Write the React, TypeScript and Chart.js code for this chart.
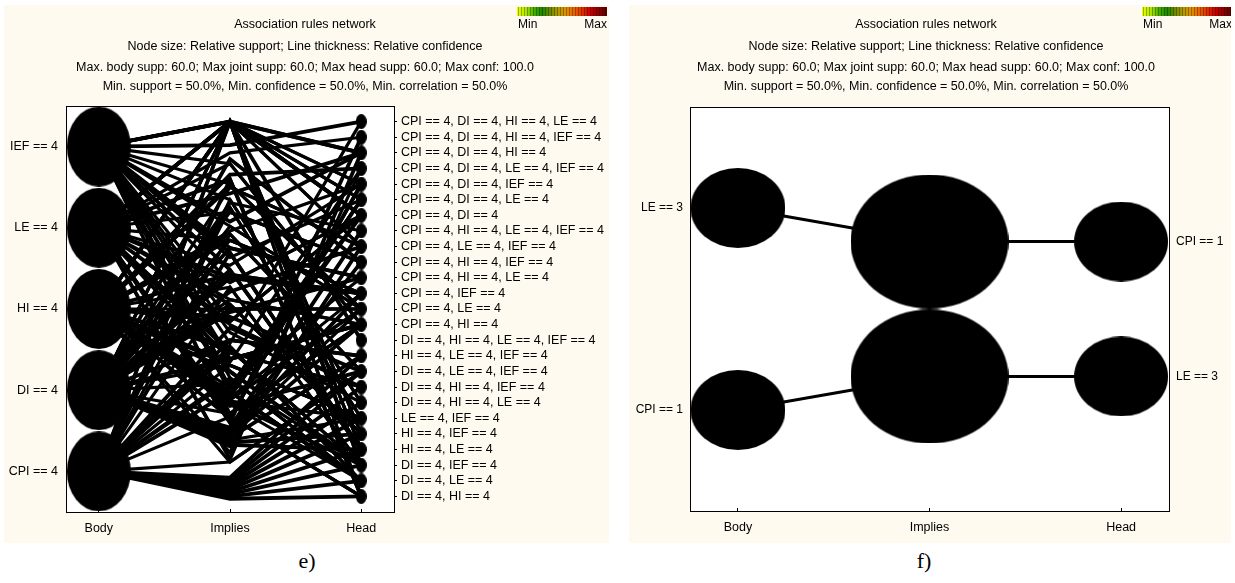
import React, { useEffect, useRef } from 'react';
import { Chart, registerables } from 'chart.js';

Chart.register(...registerables);

const FONT = "'Liberation Sans', Arial, Helvetica, sans-serif";
const BEIGE = '#fefaf0';

// ---------- shared texts ----------
const titleLines = [
  'Association rules network',
  'Node size: Relative support; Line thickness: Relative confidence',
  'Max. body supp: 60.0; Max joint supp: 60.0; Max head supp: 60.0; Max conf: 100.0',
  'Min. support = 50.0%, Min. confidence = 50.0%, Min. correlation = 50.0%',
];
const axisCategories = ['Body', 'Implies', 'Head'];
const axisCategoryX = [0, 1, 2];
const legendLabels = ['Min', 'Max'];

// ---------- panel e ----------
const eBodyLabels = ['IEF == 4', 'LE == 4', 'HI == 4', 'DI == 4', 'CPI == 4'];
const eBodyY = [23.4, 18.2, 13.0, 7.8, 2.6];
const eBodySupport = [60, 60, 60, 60, 60];
const eHeadLabels = [
  'CPI == 4, DI == 4, HI == 4, LE == 4',
  'CPI == 4, DI == 4, HI == 4, IEF == 4',
  'CPI == 4, DI == 4, HI == 4',
  'CPI == 4, DI == 4, LE == 4, IEF == 4',
  'CPI == 4, DI == 4, IEF == 4',
  'CPI == 4, DI == 4, LE == 4',
  'CPI == 4, DI == 4',
  'CPI == 4, HI == 4, LE == 4, IEF == 4',
  'CPI == 4, LE == 4, IEF == 4',
  'CPI == 4, HI == 4, IEF == 4',
  'CPI == 4, HI == 4, LE == 4',
  'CPI == 4, IEF == 4',
  'CPI == 4, LE == 4',
  'CPI == 4, HI == 4',
  'DI == 4, HI == 4, LE == 4, IEF == 4',
  'HI == 4, LE == 4, IEF == 4',
  'DI == 4, LE == 4, IEF == 4',
  'DI == 4, HI == 4, IEF == 4',
  'DI == 4, HI == 4, LE == 4',
  'LE == 4, IEF == 4',
  'HI == 4, IEF == 4',
  'HI == 4, LE == 4',
  'DI == 4, IEF == 4',
  'DI == 4, LE == 4',
  'DI == 4, HI == 4',
];
const eHeadY = [25, 24, 23, 22, 21, 20, 19, 18, 17, 16, 15, 14, 13, 12, 11, 10, 9, 8, 7, 6, 5, 4, 3, 2, 1];
const eHeadSupport = [50, 50, 50, 50, 50, 50, 50, 50, 50, 50, 50, 50, 50, 50, 50, 50, 50, 50, 50, 50, 50, 50, 50, 50, 50];

// rules: body item(s) (0 IEF, 1 LE, 2 HI, 3 DI, 4 CPI) -> head index, through an "implies" node
const eRuleBodies = [
  [0, 1], [1, 2], [0, 2], [0, 1, 2], [2, 3], [0, 3, 4], [1, 2], [0, 1], [1, 3], [4],
  [0], [1], [0, 1], [2], [0, 2], [1], [3], [1, 3], [0], [2],
  [1, 2, 3], [0, 3], [0], [1], [2, 3], [0, 1], [3], [1, 3], [0, 2, 3], [2],
  [1], [0], [3, 4], [2, 4], [1, 4], [0, 1, 3], [2, 3, 4], [1, 2], [0, 4], [3],
  [0],
  [2], [2], [2], [2], [2], [2], [2], [2],
  [3], [3], [3], [3], [3], [3], [3], [3], [3], [3],
  [4], [4], [4], [4], [4], [4], [4], [4], [4], [4],
  [2], [1, 2], [0, 2], [0], [1], [0, 1, 2], [2], [1],
  [0, 4], [1, 4], [2, 4], [3, 4], [0, 3], [1, 3], [4], [4], [2, 4], [0, 4],
  [3], [2, 3], [0, 3], [1, 3], [0, 1, 3], [2, 4], [3], [1, 2, 4], [0, 2, 4], [0, 1, 4],
];
const eRuleHead = [
  2, 4, 5, 6, 8, 21, 22, 24, 20, 14,
  0, 1, 13, 3, 12, 2, 7, 9, 2, 4,
  11, 10, 5, 4, 11, 6, 8, 13, 12, 16,
  17, 18, 15, 23, 17, 13, 19, 22, 23, 10,
  6,
  5, 6, 11, 12, 19, 22, 23, 16,
  7, 9, 11, 12, 13, 15, 19, 20, 21, 8,
  15, 16, 17, 18, 19, 20, 21, 22, 23, 24,
  3, 4, 5, 0, 1, 6, 3, 2,
  18, 24, 16, 19, 21, 20, 17, 22, 22, 21,
  9, 8, 12, 11, 13, 16, 10, 22, 23, 24,
];
const eRuleImplies = [
  25, 25, 25, 25, 25, 25, 25, 25, 25, 25,
  23.5, 23.0, 22.3, 21.6, 21.0, 20.4, 19.8, 19.2, 18.6, 18.0,
  17.4, 16.9, 16.3, 15.8, 15.2, 14.7, 14.1, 13.6, 13.0, 12.5,
  12.0, 11.5, 11.0, 10.6, 10.2, 9.8, 9.4, 9.0, 8.6, 8.2,
  7.9,
  7.5, 7.4, 7.3, 7.2, 7.1, 7.0, 6.9, 6.8,
  5.4, 5.3, 5.15, 5.0, 4.9, 4.75, 4.6, 4.45, 4.3, 4.2,
  2.2, 2.05, 1.9, 1.75, 1.6, 1.45, 1.3, 1.15, 1.0, 0.85,
  9.6, 6.0, 8.0, 10.8, 5.7, 12.2, 3.8, 3.4,
  20.0, 21.3, 17.8, 19.5, 15.5, 13.3, 11.8, 8.4, 14.4, 16.6,
  22.6, 20.8, 18.3, 15.0, 6.3, 3.2, 12.8, 10.4, 7.7, 6.1,
];
const eRuleConf = [
  100, 83.3, 83.3, 100, 83.3, 83.3, 100, 83.3, 83.3, 100,
  100, 83.3, 83.3, 100, 83.3, 100, 83.3, 83.3, 100, 83.3,
  83.3, 100, 83.3, 83.3, 100, 83.3, 100, 83.3, 83.3, 100,
  83.3, 83.3, 100, 83.3, 83.3, 100, 83.3, 100, 83.3, 83.3,
  100,
  100, 100, 83.3, 100, 83.3, 100, 83.3, 100,
  100, 100, 100, 83.3, 100, 100, 83.3, 100, 100, 100,
  100, 100, 100, 100, 100, 100, 100, 100, 100, 100,
  83.3, 100, 83.3, 83.3, 100, 83.3, 83.3, 100,
  83.3, 100, 83.3, 83.3, 100, 83.3, 100, 83.3, 83.3, 100,
  100, 83.3, 83.3, 100, 83.3, 83.3, 100, 83.3, 100, 83.3,
];

// ---------- panel f ----------
const fBodyLabels = ['LE == 3', 'CPI == 1'];
const fBodyY = [75, 25];
const fBodySupport = [60, 60];
const fHeadLabels = ['CPI == 1', 'LE == 3'];
const fHeadY = [66.7, 33.3];
const fHeadSupport = [60, 60];
const fRuleBodies = [[0], [1]];
const fRuleHead = [0, 1];
const fRuleImplies = [66.7, 33.3];
const fRuleJointSupport = [60, 60];
const fRuleConf = [100, 100];

type Spec = {
  left: number; top: number; w: number; h: number;
  area: { left: number; right: number; top: number; bottom: number };
  yMax: number;
  bodyLabels: string[]; bodyY: number[]; bodySupport: number[];
  headLabels: string[]; headY: number[]; headSupport: number[];
  ruleBodies: number[][]; ruleHead: number[]; ruleImplies: number[]; ruleConf: number[];
  ruleJoint: number[] | null;
  bodyR: [number, number]; headR: [number, number]; impR: [number, number];
  maxSupp: number;
  leftFont: number; rightFont: number; leftPad: number; rightPad: number; rightTick: number;
  xPad: number; lineScale: number; titleX: number;
};

function ellipseImage(rx: number, ry: number) {
  const c = document.createElement('canvas');
  c.width = Math.round(rx * 2);
  c.height = Math.round(ry * 2);
  const g = c.getContext('2d')!;
  g.fillStyle = '#000';
  g.beginPath();
  g.ellipse(c.width / 2, c.height / 2, rx, ry, 0, 0, Math.PI * 2);
  g.fill();
  return c;
}

const legendStops = ['#e8ff00', '#b4e800', '#48b000', '#1c8a00', '#6a8a00', '#b09a00', '#e09000', '#e86400', '#e03000', '#c80000', '#8c0000', '#600000'];
function hexToRgb(h: string) {
  return [parseInt(h.slice(1, 3), 16), parseInt(h.slice(3, 5), 16), parseInt(h.slice(5, 7), 16)];
}

function makeDecor(titleX: number) {
  return {
    id: 'decor',
    beforeDraw(chart: any) {
      const { ctx, width, height, chartArea: a } = chart;
      ctx.save();
      ctx.fillStyle = BEIGE;
      ctx.fillRect(0, 0, width, height);
      ctx.fillStyle = '#ffffff';
      ctx.fillRect(a.left, a.top, a.right - a.left, a.bottom - a.top);
      ctx.restore();
    },
    afterDraw(chart: any) {
      const { ctx, chartArea: a } = chart;
      ctx.save();
      ctx.strokeStyle = '#000';
      ctx.lineWidth = 1;
      ctx.strokeRect(a.left + 0.5, a.top + 0.5, a.right - a.left, a.bottom - a.top);
      ctx.fillStyle = '#000';
      ctx.font = `12.5px ${FONT}`;
      ctx.textAlign = 'center';
      ctx.textBaseline = 'middle';
      const ty = [20, 42, 63, 82];
      titleLines.forEach((t, i) => ctx.fillText(t, titleX, ty[i]));
      const bx = 513, bw = 90, by = 2, bh = 9;
      for (let i = 0; i < bw; i++) {
        const t = i / (bw - 1);
        const p = t * (legendStops.length - 1);
        const k = Math.min(Math.floor(p), legendStops.length - 2);
        const f = p - k;
        const c0 = hexToRgb(legendStops[k]);
        const c1 = hexToRgb(legendStops[k + 1]);
        const dim = i % 3 === 1 ? 0.7 : 1;
        const c = c0.map((v, j) => Math.round((v + (c1[j] - v) * f) * dim));
        ctx.fillStyle = `rgb(${c[0]},${c[1]},${c[2]})`;
        ctx.fillRect(bx + i, by, 1, bh);
      }
      ctx.fillStyle = '#000';
      ctx.font = `12px ${FONT}`;
      ctx.textAlign = 'left';
      ctx.fillText(legendLabels[0], bx + 1, 20);
      ctx.textAlign = 'right';
      ctx.fillText(legendLabels[1], bx + bw, 20);
      ctx.restore();
    },
  };
}

function buildConfig(s: Spec): any {
  const datasets: any[] = [];
  s.ruleBodies.forEach((bodies, r) => {
    bodies.forEach((b) => {
      datasets.push({
        type: 'line',
        data: [
          { x: axisCategoryX[0], y: s.bodyY[b] },
          { x: axisCategoryX[1], y: s.ruleImplies[r] },
          { x: axisCategoryX[2], y: s.headY[s.ruleHead[r]] },
        ],
        borderColor: '#000',
        borderWidth: (s.ruleConf[r] / 100) * s.lineScale,
        pointRadius: 0,
        fill: false,
        tension: 0,
        order: 5,
      });
    });
  });
  const bodyImgs = s.bodySupport.map((v) => ellipseImage((v / s.maxSupp) * s.bodyR[0], (v / s.maxSupp) * s.bodyR[1]));
  const headImgs = s.headSupport.map((v) => ellipseImage((v / s.maxSupp) * s.headR[0], (v / s.maxSupp) * s.headR[1]));
  datasets.push({
    type: 'scatter',
    data: s.bodyY.map((y) => ({ x: axisCategoryX[0], y })),
    pointStyle: bodyImgs,
    pointRadius: 10,
    clip: false,
    order: 0,
  });
  datasets.push({
    type: 'scatter',
    data: s.headY.map((y) => ({ x: axisCategoryX[2], y })),
    pointStyle: headImgs,
    pointRadius: 10,
    clip: false,
    order: 0,
  });
  if (s.ruleJoint) {
    const impImgs = s.ruleJoint.map((v) => ellipseImage((v / s.maxSupp) * s.impR[0], (v / s.maxSupp) * s.impR[1]));
    datasets.push({
      type: 'scatter',
      data: s.ruleImplies.map((y) => ({ x: axisCategoryX[1], y })),
      pointStyle: impImgs,
      pointRadius: 10,
      clip: false,
      order: 0,
    });
  }

  const a = s.area;
  return {
    type: 'scatter',
    data: { datasets },
    plugins: [makeDecor(s.titleX)],
    options: {
      responsive: false,
      maintainAspectRatio: false,
      devicePixelRatio: 1,
      animation: false,
      events: [],
      layout: { padding: { top: a.top, left: 0, right: 0, bottom: 0 } },
      plugins: { legend: { display: false }, tooltip: { enabled: false }, title: { display: false } },
      scales: {
        x: {
          type: 'linear',
          position: 'bottom',
          min: -0.25,
          max: 2.25,
          afterBuildTicks: (sc: any) => { sc.ticks = axisCategoryX.map((v) => ({ value: v })); },
          afterFit: (sc: any) => { sc.height = s.h - a.bottom; },
          ticks: {
            autoSkip: false,
            maxRotation: 0,
            padding: s.xPad,
            color: '#000',
            font: { size: 12.5, family: FONT },
            callback: (_v: any, i: number) => axisCategories[i],
          },
          grid: { display: true, drawOnChartArea: false, drawTicks: true, tickLength: -3, color: '#000', lineWidth: 1 },
          border: { display: false },
        },
        y: {
          type: 'linear',
          position: 'left',
          min: 0,
          max: s.yMax,
          afterBuildTicks: (sc: any) => { sc.ticks = s.bodyY.map((v) => ({ value: v })); },
          afterFit: (sc: any) => { sc.width = a.left; },
          ticks: {
            autoSkip: false,
            padding: s.leftPad,
            color: '#000',
            font: { size: s.leftFont, family: FONT },
            callback: (_v: any, i: number) => s.bodyLabels[i],
          },
          grid: { display: false, drawTicks: false, tickLength: 0 },
          border: { display: false },
        },
        y2: {
          type: 'linear',
          position: 'right',
          min: 0,
          max: s.yMax,
          afterBuildTicks: (sc: any) => { sc.ticks = s.headY.map((v) => ({ value: v })); },
          afterFit: (sc: any) => { sc.width = s.w - a.right; },
          ticks: {
            autoSkip: false,
            padding: s.rightPad,
            color: '#000',
            font: { size: s.rightFont, family: FONT },
            callback: (_v: any, i: number) => s.headLabels[i],
          },
          grid: {
            display: s.rightTick > 0,
            drawOnChartArea: false,
            drawTicks: s.rightTick > 0,
            tickLength: s.rightTick,
            color: '#000',
            lineWidth: 1,
          },
          border: { display: false },
        },
      },
    },
  };
}

const specE: Spec = {
  left: 4, top: 5, w: 605, h: 538,
  area: { left: 62, right: 390, top: 101, bottom: 507 },
  yMax: 26,
  bodyLabels: eBodyLabels, bodyY: eBodyY, bodySupport: eBodySupport,
  headLabels: eHeadLabels, headY: eHeadY, headSupport: eHeadSupport,
  ruleBodies: eRuleBodies, ruleHead: eRuleHead, ruleImplies: eRuleImplies, ruleConf: eRuleConf,
  ruleJoint: null,
  bodyR: [32, 40], headR: [6.6, 9], impR: [0, 0],
  maxSupp: 60,
  leftFont: 12.5, rightFont: 12.5, leftPad: 8, rightPad: 4, rightTick: 3,
  xPad: 12, lineScale: 3.8, titleX: 301,
};

const specF: Spec = {
  left: 629, top: 5, w: 602, h: 538,
  area: { left: 61, right: 540, top: 102, bottom: 506 },
  yMax: 100,
  bodyLabels: fBodyLabels, bodyY: fBodyY, bodySupport: fBodySupport,
  headLabels: fHeadLabels, headY: fHeadY, headSupport: fHeadSupport,
  ruleBodies: fRuleBodies, ruleHead: fRuleHead, ruleImplies: fRuleImplies, ruleConf: fRuleConf,
  ruleJoint: fRuleJointSupport,
  bodyR: [47.5, 40], headR: [47, 40], impR: [79, 67],
  maxSupp: 60,
  leftFont: 12, rightFont: 12, leftPad: 7, rightPad: 7, rightTick: 0,
  xPad: 12.5, lineScale: 3, titleX: 297,
};

function Panel({ spec }: { spec: Spec }) {
  const ref = useRef<HTMLCanvasElement | null>(null);
  useEffect(() => {
    if (!ref.current) return;
    const chart = new Chart(ref.current, buildConfig(spec));
    return () => chart.destroy();
  }, [spec]);
  return (
    <canvas
      ref={ref}
      width={spec.w}
      height={spec.h}
      style={{ position: 'absolute', left: spec.left, top: spec.top, width: spec.w, height: spec.h }}
    />
  );
}

const captionStyle: React.CSSProperties = {
  position: 'absolute',
  width: 100,
  textAlign: 'center',
  fontFamily: "'Liberation Serif', 'Times New Roman', serif",
  fontSize: 22,
  lineHeight: '24px',
  color: '#000',
};

export default function App() {
  return (
    <div style={{ position: 'absolute', left: 0, top: 0, width: 1235, height: 583, background: '#fff', overflow: 'hidden' }}>
      <Panel spec={specE} />
      <Panel spec={specF} />
      <div style={{ ...captionStyle, left: 257, top: 549 }}>e)</div>
      <div style={{ ...captionStyle, left: 874, top: 549 }}>f)</div>
    </div>
  );
}
